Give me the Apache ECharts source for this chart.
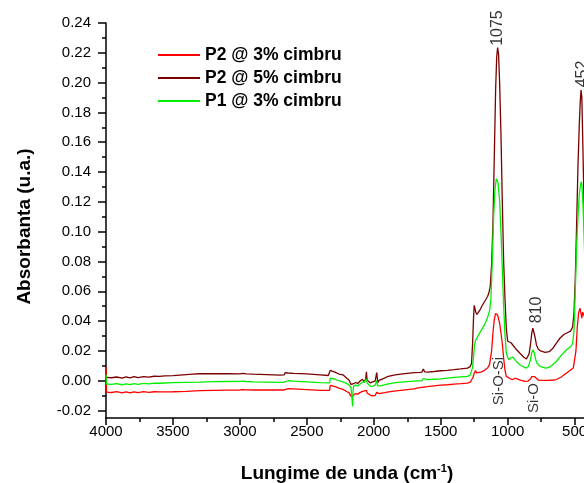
<!DOCTYPE html>
<html>
<head>
<meta charset="utf-8">
<script src="https://cdn.jsdelivr.net/npm/echarts@6/dist/echarts.min.js"></script>
<style>
html,body{margin:0;padding:0;background:#fff;}
#chart{width:584px;height:483px;}
</style>
</head>
<body>
<div id="chart"></div>
<script>
// ---- Data ----
const seriesNames = ['P2 @ 3% cimbru', 'P2 @ 5% cimbru', 'P1 @ 3% cimbru'];

const redWn = [4000,3996,3960,3920,3880,3850,3820,3790,3760,3720,3680,3640,3600,3500,3400,3300,3200,3100,3000,2980,2970,2950,2900,2800,2700,2670,2660,2640,2600,2500,2400,2330,2325,2310,2290,2260,2230,2200,2185,2170,2160,2150,2135,2120,2100,2085,2070,2060,2055,2050,2040,2025,2010,2000,1990,1982,1978,1970,1960,1950,1920,1900,1850,1800,1750,1700,1660,1640,1630,1620,1600,1550,1500,1450,1400,1350,1300,1280,1270,1260,1250,1240,1232,1220,1200,1175,1150,1135,1120,1110,1100,1090,1085,1075,1060,1050,1040,1030,1020,1010,1000,980,960,945,930,900,870,850,830,820,810,800,790,770,750,700,660,636,600,560,530,510,500,490,480,470,460,452,446,440,430,415,400];
const redAbs = [0.0094,-0.0076,-0.0079,-0.0073,-0.0081,-0.0075,-0.0082,-0.0074,-0.008,-0.0073,-0.0078,-0.0074,-0.0075,-0.0074,-0.0071,-0.0067,-0.0065,-0.0063,-0.0062,-0.006,-0.0056,-0.0061,-0.0062,-0.0062,-0.0062,-0.0062,-0.0052,-0.0053,-0.0054,-0.0059,-0.0064,-0.0065,-0.0031,-0.0034,-0.004,-0.005,-0.0058,-0.0074,-0.008,-0.0105,-0.0116,-0.0095,-0.0087,-0.009,-0.0078,-0.0072,-0.0068,-0.0075,-0.0065,-0.0082,-0.009,-0.0098,-0.0102,-0.0096,-0.0099,-0.009,-0.0078,-0.0088,-0.0086,-0.0087,-0.008,-0.0076,-0.007,-0.0065,-0.006,-0.0055,-0.0046,-0.0044,-0.0038,-0.0042,-0.004,-0.0034,-0.003,-0.0027,-0.0023,-0.002,-0.0016,-0.001,0.0,0.002,0.005,0.0069,0.0052,0.005,0.0058,0.0068,0.0085,0.011,0.02,0.032,0.041,0.0452,0.0454,0.044,0.0387,0.032,0.025,0.015,0.007,0.0029,0.0018,0.0013,0.0008,0.0017,0.0012,0.0003,-0.0004,-0.0003,0.0012,0.0028,0.0034,0.0028,0.0016,0.0004,0.0002,0.0003,0.0005,0.0008,0.0025,0.0052,0.0072,0.0085,0.0096,0.02,0.036,0.0455,0.0487,0.045,0.042,0.046,0.044,0.04,0.035];

const brownWn = [4000,3960,3920,3880,3850,3820,3790,3760,3720,3680,3640,3600,3560,3500,3450,3400,3350,3300,3200,3100,3000,2980,2970,2950,2900,2800,2700,2670,2660,2640,2600,2500,2400,2340,2330,2325,2310,2290,2260,2230,2200,2185,2170,2160,2150,2135,2120,2100,2085,2070,2060,2055,2050,2040,2025,2010,2000,1990,1982,1978,1970,1960,1950,1920,1900,1850,1800,1750,1700,1660,1640,1630,1620,1600,1550,1500,1450,1400,1350,1300,1280,1270,1262,1255,1250,1245,1238,1230,1222,1210,1190,1170,1150,1140,1130,1120,1110,1100,1090,1082,1075,1068,1060,1050,1040,1030,1020,1010,1000,990,975,960,940,910,880,860,850,840,830,820,812,805,795,785,770,750,720,690,660,636,610,580,555,530,515,505,495,485,475,465,458,452,446,440,430,420,400];
const brownAbs = [0.0022,0.002,0.0025,0.0018,0.0026,0.0019,0.0027,0.0021,0.0028,0.0024,0.003,0.0029,0.0033,0.0034,0.0038,0.0041,0.0044,0.0047,0.0048,0.0047,0.0046,0.0049,0.0057,0.0046,0.0044,0.0041,0.0038,0.0039,0.0054,0.0052,0.005,0.0046,0.004,0.0035,0.0034,0.0069,0.0064,0.0058,0.0045,0.004,0.0015,0.0005,-0.0025,-0.0036,-0.002,-0.0012,-0.0018,0.0,0.001,-0.001,0.0015,0.006,0.0005,-0.0005,-0.0015,-0.0008,-0.0013,-0.0002,0.0005,0.0055,-0.0012,0.0002,0.0007,0.0018,0.0027,0.0038,0.0045,0.005,0.0054,0.0056,0.0058,0.0078,0.006,0.0058,0.0062,0.0067,0.007,0.0074,0.0079,0.0085,0.0095,0.0115,0.025,0.042,0.0505,0.0495,0.046,0.0445,0.0443,0.047,0.0505,0.0535,0.0565,0.059,0.0635,0.078,0.105,0.15,0.195,0.217,0.2235,0.219,0.2,0.165,0.12,0.08,0.055,0.035,0.0265,0.0252,0.0255,0.0238,0.0215,0.0186,0.0158,0.0146,0.015,0.018,0.024,0.032,0.0353,0.034,0.029,0.024,0.021,0.0198,0.019,0.0195,0.022,0.0253,0.0285,0.031,0.0322,0.0333,0.036,0.045,0.068,0.105,0.1437,0.172,0.187,0.195,0.19,0.165,0.12,0.085,0.055];

const greenWn = [4000,3996,3960,3920,3880,3850,3820,3790,3760,3720,3680,3640,3600,3500,3400,3300,3200,3100,3000,2980,2970,2950,2900,2800,2700,2670,2660,2640,2600,2500,2400,2330,2325,2310,2290,2260,2230,2200,2185,2170,2162,2158,2154,2150,2135,2120,2100,2085,2070,2060,2055,2050,2040,2025,2010,2000,1990,1982,1978,1970,1960,1950,1920,1900,1850,1800,1750,1700,1660,1640,1630,1620,1600,1550,1500,1450,1400,1350,1300,1280,1270,1262,1255,1248,1240,1230,1210,1190,1170,1150,1135,1125,1115,1105,1095,1085,1080,1072,1060,1050,1040,1030,1020,1010,1000,990,975,960,940,910,880,860,845,830,820,811,800,790,781,760,730,711,680,636,600,561,530,515,505,495,485,475,465,455,450,444,436,425,410,400];
const greenAbs = [0.004,-0.0022,-0.0025,-0.002,-0.0027,-0.0021,-0.0026,-0.0019,-0.0024,-0.0018,-0.0021,-0.0016,-0.0017,-0.0013,-0.0011,-0.0009,-0.0006,-0.0005,-0.0004,-0.0002,0.0003,-0.0005,-0.0007,-0.0009,-0.0011,-0.001,0.0002,0.0,-0.0003,-0.0008,-0.0013,-0.0015,0.0018,0.0015,0.001,0.0,-0.0008,-0.002,-0.0028,-0.0047,-0.005,-0.0172,-0.006,-0.0034,-0.003,-0.0036,-0.002,-0.001,-0.0008,0.0,0.0013,-0.0015,-0.0028,-0.0038,-0.0038,-0.004,-0.003,-0.0025,0.0002,-0.0035,-0.0034,-0.0034,-0.0028,-0.0022,-0.0014,-0.0009,-0.0006,-0.0003,-0.0001,0.0,0.0015,0.0006,0.0007,0.001,0.0013,0.0018,0.0023,0.0026,0.0029,0.0038,0.005,0.009,0.016,0.0235,0.027,0.0286,0.032,0.035,0.038,0.0425,0.047,0.055,0.08,0.11,0.128,0.1355,0.136,0.133,0.121,0.1,0.075,0.05,0.031,0.0186,0.0155,0.0141,0.0155,0.0159,0.0135,0.0107,0.0092,0.0085,0.0095,0.014,0.019,0.0208,0.0185,0.014,0.0119,0.0098,0.0088,0.0085,0.0095,0.0129,0.017,0.0208,0.0228,0.025,0.033,0.06,0.09,0.11,0.125,0.132,0.1336,0.13,0.115,0.085,0.06,0.05];

const xTickLabels = [500,1000,1500,2000,2500,3000,3500,4000];
const xMinorTicks = [750,1250,1750,2250,2750,3250,3750];
const yTickLabels = ['-0.02','0.00','0.02','0.04','0.06','0.08','0.10','0.12','0.14','0.16','0.18','0.20','0.22','0.24'];
const yMinorTicks = ['-0.01','0.01','0.03','0.05','0.07','0.09','0.11','0.13','0.15','0.17','0.19','0.21','0.23'];

const annoText = ['1075','452','810','Si-O-Si','Si-O'];
const annoWn  = [1075, 443, 784, 1067, 806];
const annoAbs = [0.2366, 0.2058, 0.0475, -0.0002, -0.0116];
const annoSize = [16, 16, 16, 15, 15];

// ---- Build ----
const FONT = '"Liberation Sans", Arial, sans-serif';
const zip = (xs, ys) => xs.map((x, i) => [x, ys[i]]);
const colors = ['#ff0000', '#7a0000', '#00ee00'];

const chart = echarts.init(document.getElementById('chart'), null, {renderer: 'canvas'});
const axisCol = '#000';

const option = {
  animation: false,
  backgroundColor: '#fff',
  textStyle: {fontFamily: FONT},
  grid: {left: 106, right: -4, top: 23, bottom: 65, containLabel: false, outerBoundsMode: 'none'},
  legend: {
    data: seriesNames,
    orient: 'vertical',
    left: 158, top: 46, padding: 0,
    itemWidth: 42, itemHeight: 2, itemGap: 5,
    icon: 'rect',
    textStyle: {fontFamily: FONT, fontSize: 17.5, fontWeight: 'bold', color: '#000', lineHeight: 18}
  },
  xAxis: [{
    type: 'value', position: 'bottom', min: 400, max: 4000, inverse: true,
    axisLine: {show: true, onZero: false, lineStyle: {color: axisCol, width: 1.5}},
    axisTick: {show: true, customValues: xTickLabels, length: 7, lineStyle: {color: axisCol, width: 1.5}},
    axisLabel: {customValues: xTickLabels, formatter: v => String(v), fontSize: 15, color: '#000', margin: 6, fontFamily: FONT, hideOverlap: false},
    splitLine: {show: false},
    name: '{a|Lungime de unda (cm}{b|-1}{a|)}',
    nameLocation: 'middle', nameGap: 45,
    nameTextStyle: {
      rich: {
        a: {fontSize: 19, fontWeight: 'bold', color: '#000', fontFamily: FONT, lineHeight: 22},
        b: {fontSize: 11, fontWeight: 'bold', color: '#000', fontFamily: FONT, lineHeight: 12, verticalAlign: 'top'}
      }
    }
  }, {
    type: 'value', position: 'bottom', min: 400, max: 4000, inverse: true,
    axisLine: {show: false, onZero: false},
    axisTick: {show: true, customValues: xMinorTicks, length: 4, lineStyle: {color: axisCol, width: 1.5}},
    axisLabel: {show: false},
    splitLine: {show: false}
  }],
  yAxis: [{
    type: 'value', position: 'left', min: -0.025, max: 0.24,
    axisLine: {show: true, onZero: false, lineStyle: {color: axisCol, width: 1.5}},
    axisTick: {show: true, customValues: yTickLabels.map(Number), length: 8, lineStyle: {color: axisCol, width: 1.5}},
    axisLabel: {customValues: yTickLabels.map(Number), formatter: v => v.toFixed(2), fontSize: 15, color: '#000', margin: 15, fontFamily: FONT},
    splitLine: {show: false},
    name: 'Absorbanta (u.a.)',
    nameLocation: 'middle', nameGap: 72,
    nameTextStyle: {fontSize: 19, fontWeight: 'bold', color: '#000', fontFamily: FONT, padding: [0, 12, 0, 0]}
  }, {
    type: 'value', position: 'left', min: -0.025, max: 0.24,
    axisLine: {show: false, onZero: false},
    axisTick: {show: true, customValues: yMinorTicks.map(Number), length: 4, lineStyle: {color: axisCol, width: 1.5}},
    axisLabel: {show: false},
    splitLine: {show: false}
  }],
  series: [
    {name: seriesNames[0], type: 'line', data: zip(redWn, redAbs), showSymbol: false, symbol: 'none',
     lineStyle: {color: colors[0], width: 1.3}, itemStyle: {color: colors[0]}, z: 3},
    {name: seriesNames[1], type: 'line', data: zip(brownWn, brownAbs), showSymbol: false, symbol: 'none',
     lineStyle: {color: colors[1], width: 1.3}, itemStyle: {color: colors[1]}, z: 2},
    {name: seriesNames[2], type: 'line', data: zip(greenWn, greenAbs), showSymbol: false, symbol: 'none',
     lineStyle: {color: colors[2], width: 1.3}, itemStyle: {color: colors[2]}, z: 4},
    {name: 'annotations', type: 'scatter', symbolSize: 0, silent: true, z: 5,
     data: annoText.map((t, i) => ({name: t, value: [annoWn[i], annoAbs[i]],
       label: {fontSize: annoSize[i]}})),
     label: {show: true, position: 'inside', rotate: 90, formatter: p => p.name,
       color: '#000', fontFamily: FONT, fontSize: 16}}
  ]
};
chart.setOption(option);
</script>
</body>
</html>
